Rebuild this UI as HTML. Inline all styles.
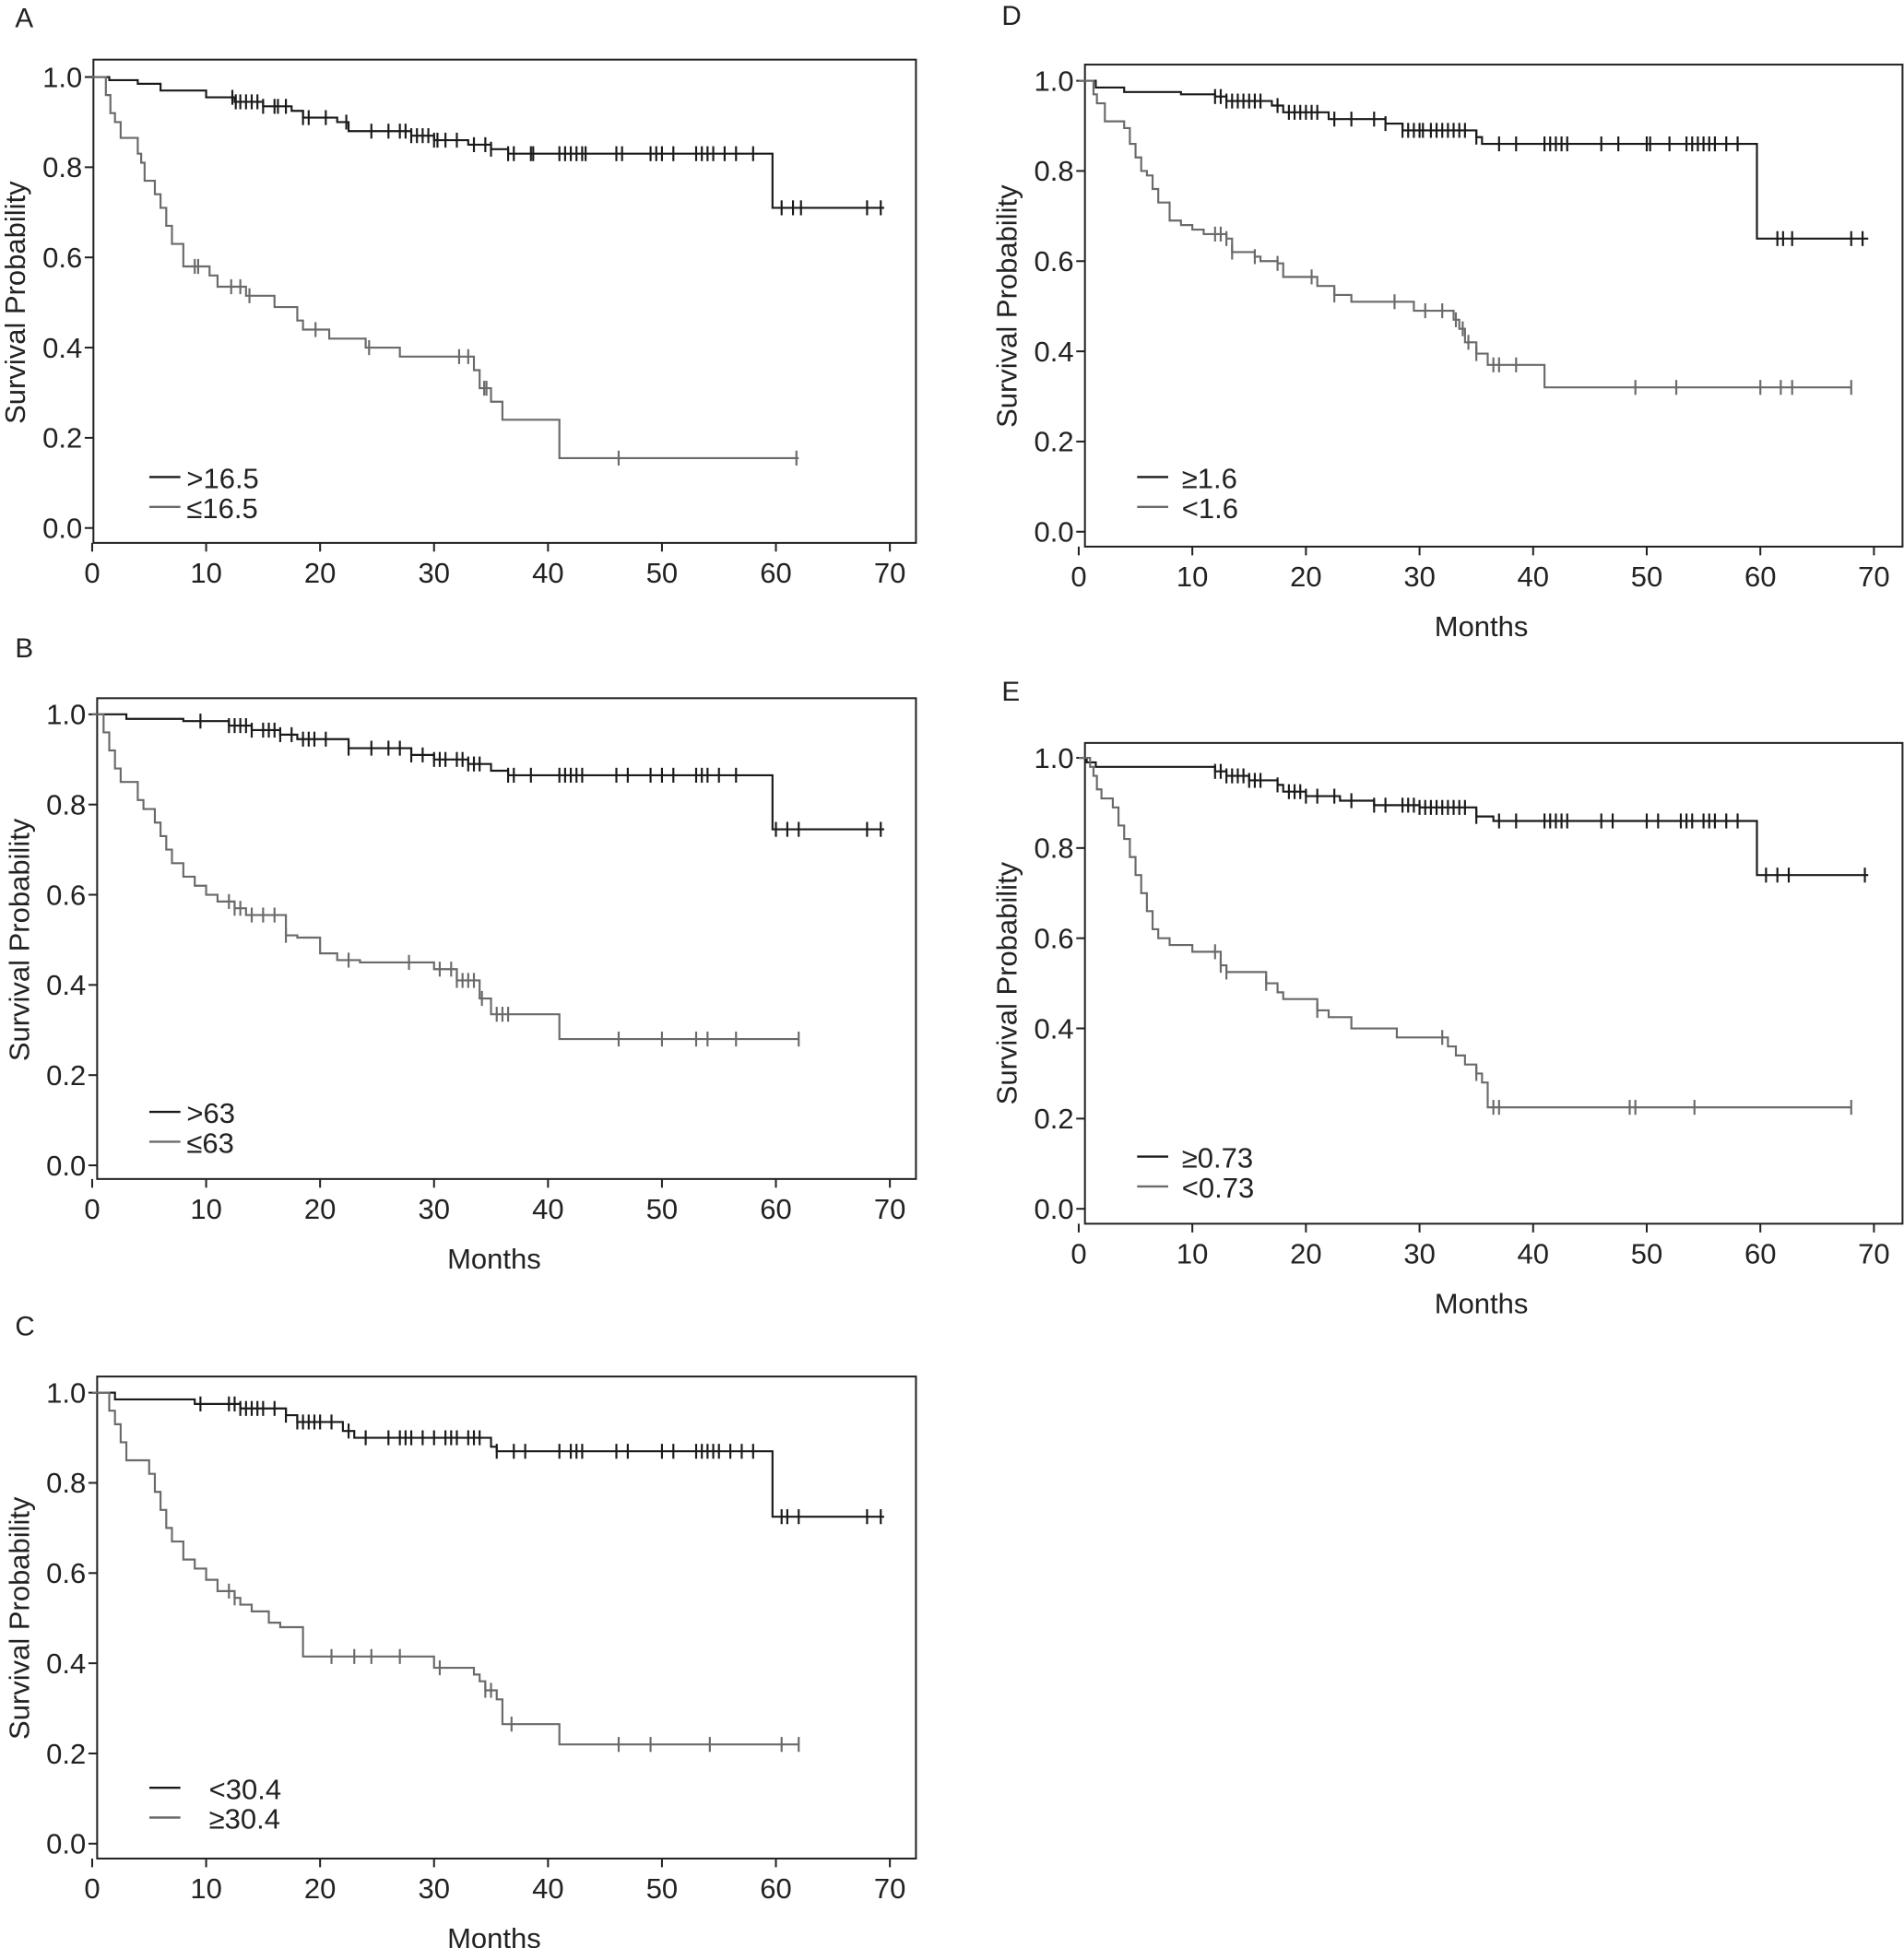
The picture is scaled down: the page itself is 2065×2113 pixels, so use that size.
<!DOCTYPE html>
<html><head><meta charset="utf-8"><style>
html,body{margin:0;padding:0;background:#fff}
svg{display:block}
text{font-family:"Liberation Sans Narrow","Liberation Sans",sans-serif}
</style></head><body>
<svg id="fig" width="2065" height="2113" viewBox="0 0 1532 1568" xmlns="http://www.w3.org/2000/svg"></svg>
<script>
// ---- data (months, survival) ----
const A_hiSteps=[[0,1],[1.5,0.993],[4,0.985],[6,0.97],[10,0.955],[12.5,0.945],[15,0.935],[17.5,0.925],[18.5,0.91],[21.5,0.9],[22.5,0.88],[28,0.87],[30,0.86],[33,0.85],[35,0.84],[36.5,0.83],[59.7,0.71]];
const A_hiEnd=69.5;
const A_hiCens=[12.3,12.6,13,13.5,14,14.5,15,16,16.3,17,18.5,19,20.5,22.3,24.5,26,27,27.5,28,28.5,29,29.5,30,30.3,31,32,33.5,34.5,35,36.5,37,38.5,38.7,41,41.5,42,42.5,43,43.3,46,46.5,49,49.5,50,51,53,53.5,54,54.5,55.5,56.5,58,60.5,61.5,62.2,68,69.2];
const A_loSteps=[[0,1],[1.2,0.96],[1.6,0.92],[2,0.9],[2.5,0.865],[4,0.83],[4.3,0.81],[4.6,0.77],[5.5,0.74],[6,0.71],[6.5,0.67],[7,0.63],[8,0.58],[10.3,0.56],[11,0.535],[13.5,0.515],[16,0.49],[18,0.46],[18.5,0.44],[20.8,0.42],[24,0.40],[27,0.38],[33.5,0.35],[34,0.31],[35,0.28],[36,0.24],[41,0.155]];
const A_loEnd=62;
const A_loCens=[9,9.3,12.2,13,13.8,19.6,24.3,32.2,33,34.4,34.6,46.2,61.8];

const B_hiSteps=[[0,1],[3,0.99],[8,0.985],[12,0.975],[14,0.965],[16.5,0.955],[18,0.945],[22.5,0.925],[28,0.91],[30,0.9],[33,0.89],[35,0.875],[36.5,0.865],[59.7,0.745]];
const B_hiEnd=69.5;
const B_hiCens=[9.5,12,12.5,13,13.5,14,15,15.5,16,16.5,17.5,18.5,19,19.5,20.5,22.5,24.5,26,27,28,29,30,30.5,31,32,32.5,33,33.5,34,36.5,37,38.5,41,41.5,42,42.5,43,46,47,49,50,51,53,53.5,54,55,56.5,60,61,62,68,69.2];
const B_loSteps=[[0,1],[1,0.96],[1.5,0.92],[2,0.88],[2.5,0.85],[4,0.81],[4.5,0.79],[5.5,0.76],[6,0.73],[6.5,0.70],[7,0.67],[8,0.64],[9,0.62],[10,0.60],[11,0.585],[12.5,0.57],[13.5,0.555],[17,0.51],[18,0.505],[20,0.47],[21.5,0.455],[23.5,0.45],[30,0.435],[32,0.41],[34,0.37],[35,0.335],[41,0.28]];
const B_loEnd=62;
const B_loCens=[12,12.5,13,14,15,16,17,22.5,27.8,30.5,31.5,32,32.5,33,33.5,34.2,35.5,36,36.5,46.2,50,53,54,56.5,62];

const C_hiSteps=[[0,1],[2,0.985],[9,0.975],[13,0.965],[17,0.95],[18,0.935],[22,0.915],[23,0.90],[35,0.88],[35.5,0.87],[59.7,0.725]];
const C_hiEnd=69.5;
const C_hiCens=[9.5,12,12.5,13,13.5,14,14.5,15,16,17,18,18.5,19,19.5,20,21,22.5,24,26,27,27.5,28,29,30,31,31.5,32,33,33.5,34,35.5,37,38,41,42,42.5,43,46,47,50,51,53,53.5,54,54.5,55,56,57,58,60.5,61,62,68,69.2];
const C_loSteps=[[0,1],[1.5,0.96],[2,0.93],[2.5,0.89],[3,0.85],[5,0.82],[5.5,0.78],[6,0.74],[6.5,0.70],[7,0.67],[8,0.63],[9,0.61],[10,0.585],[11,0.56],[12.5,0.545],[13,0.53],[14,0.515],[15.5,0.49],[16.5,0.48],[18.5,0.415],[30,0.39],[33.5,0.375],[34,0.36],[34.5,0.34],[35.5,0.32],[36,0.265],[41,0.22]];
const C_loEnd=62;
const C_loCens=[12,12.5,21,23,24.5,27,30.5,34.5,35,36.8,46.2,49,54.2,60.5,62];

const D_hiSteps=[[0,1],[1.5,0.985],[4,0.975],[9,0.97],[12,0.965],[13,0.955],[17,0.945],[18,0.93],[22,0.915],[27,0.905],[28.5,0.89],[35,0.875],[35.5,0.86],[59.7,0.65]];
const D_hiEnd=69.5;
const D_hiCens=[12,12.5,13,13.5,14,14.5,15,15.5,16,17.5,18.5,19,19.5,20,20.5,21,22.5,24,26,27,28.5,29,29.5,30,30.3,31,31.5,32,32.5,33,33.5,34,35,37,38.5,41,41.5,42,42.5,43,46,47.5,50,50.3,52,53.5,54,54.5,55,55.5,56,57,58,61.5,62,62.8,68,69];
const D_loSteps=[[0,1],[1.3,0.97],[1.6,0.95],[2.3,0.91],[4,0.895],[4.5,0.86],[5,0.83],[5.5,0.80],[6,0.79],[6.5,0.76],[7,0.73],[8,0.69],[9,0.68],[10,0.67],[11,0.66],[13,0.65],[13.5,0.62],[15.5,0.61],[16,0.60],[17.5,0.595],[18,0.565],[21,0.545],[22.5,0.525],[24,0.51],[29.5,0.49],[33,0.47],[33.5,0.45],[34,0.42],[35,0.395],[36,0.37],[41,0.32]];
const D_loEnd=68;
const D_loCens=[12,12.5,13,13.5,15.5,17.5,20.5,22.5,27.8,30.5,32,33.2,33.8,34.3,35,36.5,37,38.5,49,52.6,60,61.8,62.8,68];

const E_hiSteps=[[0,1],[0.7,0.99],[1.5,0.98],[12,0.97],[13,0.96],[15,0.95],[17.5,0.94],[18,0.925],[20,0.915],[23,0.905],[26,0.895],[30,0.89],[35,0.87],[36.5,0.86],[59.7,0.74]];
const E_hiEnd=69.5;
const E_hiCens=[12,12.5,13,13.5,14,14.5,15,15.5,16,17.5,18.5,19,19.5,20,21,22.5,24,26,27,28.5,29,29.5,30,30.5,31,31.5,32,32.5,33,33.5,34,35,37,38.5,41,41.5,42,42.5,43,46,47,50,51,53,53.5,54,55,55.5,56,57,58,60.5,61.5,62.5,69.2];
const E_loSteps=[[0,1],[1,0.98],[1.3,0.96],[1.6,0.93],[2,0.91],[3,0.89],[3.5,0.85],[4,0.82],[4.5,0.78],[5,0.74],[5.5,0.70],[6,0.66],[6.5,0.62],[7,0.60],[8,0.585],[10,0.57],[12.5,0.54],[13,0.525],[16.5,0.50],[17.5,0.48],[18,0.465],[21,0.44],[22,0.425],[24,0.40],[28,0.38],[32.5,0.36],[33.2,0.34],[34,0.32],[35,0.30],[35.5,0.28],[36,0.225],[41,0.225]];
const E_loEnd=68;
const E_loCens=[12,12.5,13,16.5,21,32,35,36.5,37,48.5,49,54.2,68];

const xTicks=[0,10,20,30,40,50,60,70];
const yTicks=[0,0.2,0.4,0.6,0.8,1.0];
const yTickLabels=["0.0","0.2","0.4","0.6","0.8","1.0"];

const panels=[
 {id:"a",letter:"A",lx:12,ly:22,box:[75,48,737,437],x0:74,x70:716,y1:62,y0:425,hi:A_hiSteps,hiEnd:A_hiEnd,hiC:A_hiCens,lo:A_loSteps,loEnd:A_loEnd,loC:A_loCens,leg:[">16.5","≤16.5"],legX:120,legY:384,textX:150,months:false},
 {id:"b",letter:"B",lx:12,ly:529,box:[78,562,737,949],x0:74,x70:716,y1:575,y0:938,hi:B_hiSteps,hiEnd:B_hiEnd,hiC:B_hiCens,lo:B_loSteps,loEnd:B_loEnd,loC:B_loCens,leg:[">63","≤63"],legX:120,legY:895,textX:150,months:true},
 {id:"c",letter:"C",lx:12,ly:1075,box:[78,1108,737,1496],x0:74,x70:716,y1:1121,y0:1484,hi:C_hiSteps,hiEnd:C_hiEnd,hiC:C_hiCens,lo:C_loSteps,loEnd:C_loEnd,loC:C_loCens,leg:["<30.4","≥30.4"],legX:120,legY:1439,textX:168,months:true},
 {id:"d",letter:"D",lx:806,ly:20,box:[873,52,1531,440],x0:868,x70:1508,y1:65,y0:428,hi:D_hiSteps,hiEnd:D_hiEnd,hiC:D_hiCens,lo:D_loSteps,loEnd:D_loEnd,loC:D_loCens,leg:["≥1.6","<1.6"],legX:915,legY:384,textX:951,months:true},
 {id:"e",letter:"E",lx:806,ly:564,box:[873,598,1531,985],x0:868,x70:1508,y1:610,y0:973,hi:E_hiSteps,hiEnd:E_hiEnd,hiC:E_hiCens,lo:E_loSteps,loEnd:E_loEnd,loC:E_loCens,leg:["≥0.73","<0.73"],legX:915,legY:931,textX:951,months:true}
];

const NS="http://www.w3.org/2000/svg";
const svg=document.getElementById("fig");
function mk(tag,attrs,parent){const e=document.createElementNS(NS,tag);for(const k in attrs)e.setAttribute(k,attrs[k]);(parent||svg).appendChild(e);return e;}

panels.forEach(p=>{
  const g=mk("g",{});
  
  
  const X=m=>p.x0+(p.x70-p.x0)*m/70;
  const Y=s=>p.y0+(p.y1-p.y0)*s;
  const [bl,bt,br,bb]=p.box;
  const lt=mk("text",{x:p.lx,y:p.ly,"font-size":22,fill:"#222"},g);lt.textContent=p.letter;
  
  
  const box=mk("rect",{x:bl,y:bt,width:br-bl,height:bb-bt,fill:"none",stroke:"#222","stroke-width":1.5},g);
  
  
  xTicks.forEach(t=>{
    mk("line",{x1:X(t),x2:X(t),y1:bb,y2:bb+7,stroke:"#222","stroke-width":1.5},g);
    const tx=mk("text",{x:X(t),y:bb+32,"text-anchor":"middle","font-size":23,fill:"#222"},g);tx.textContent=t;
    
    
  });
  yTicks.forEach((t,i)=>{
    mk("line",{x1:bl-7,x2:bl,y1:Y(t),y2:Y(t),stroke:"#222","stroke-width":1.5},g);
    const ty=mk("text",{x:bl-9,y:Y(t)+8,"text-anchor":"end","font-size":23,fill:"#222"},g);ty.textContent=yTickLabels[i];
    
    
  });
  const yt=mk("text",{x:0,y:0,"text-anchor":"middle","font-size":23,fill:"#222",transform:`translate(${bl-55},${(p.y0+p.y1)/2}) rotate(-90)`},g);yt.textContent="Survival Probability";
  
  
  if(p.months){const mt=mk("text",{x:(bl+br)/2-10,y:bb+72,"text-anchor":"middle","font-size":23,fill:"#222"},g);mt.textContent="Months";
    
    }
  [[p.hi,p.hiEnd,p.hiC,"#1a1a1a","hi"],[p.lo,p.loEnd,p.loC,"#6a6a6a","lo"]].forEach(([st,end,cens,col,nm])=>{
    let d=`M${X(st[0][0])},${Y(st[0][1])}`;
    for(let i=1;i<st.length;i++){d+=` H${X(st[i][0])} V${Y(st[i][1])}`;}
    d+=` H${X(end)}`;
    const path=mk("path",{d:d,fill:"none",stroke:col,"stroke-width":1.6},g);
    
    
    const sv=t=>{let v=st[0][1];for(const s of st){if(s[0]<=t)v=s[1];}return v;};
    cens.forEach(t=>{
      const cx=X(t),cy=Y(sv(t));
      const c=mk("line",{x1:cx,x2:cx,y1:cy-6,y2:cy+6,stroke:col,"stroke-width":1.6},g);
      
      
    });
  });
  p.leg.forEach((lab,i)=>{
    const col=i===0?"#1a1a1a":"#6a6a6a";
    const yy=p.legY+i*24;
    const ll=mk("line",{x1:p.legX,x2:p.legX+25,y1:yy,y2:yy,stroke:col,"stroke-width":1.8},g);
    
    
    const lt2=mk("text",{x:p.textX,y:yy+9,"font-size":23,fill:"#222"},g);lt2.textContent=lab;
    
    
  });
});
</script>
</body></html>
